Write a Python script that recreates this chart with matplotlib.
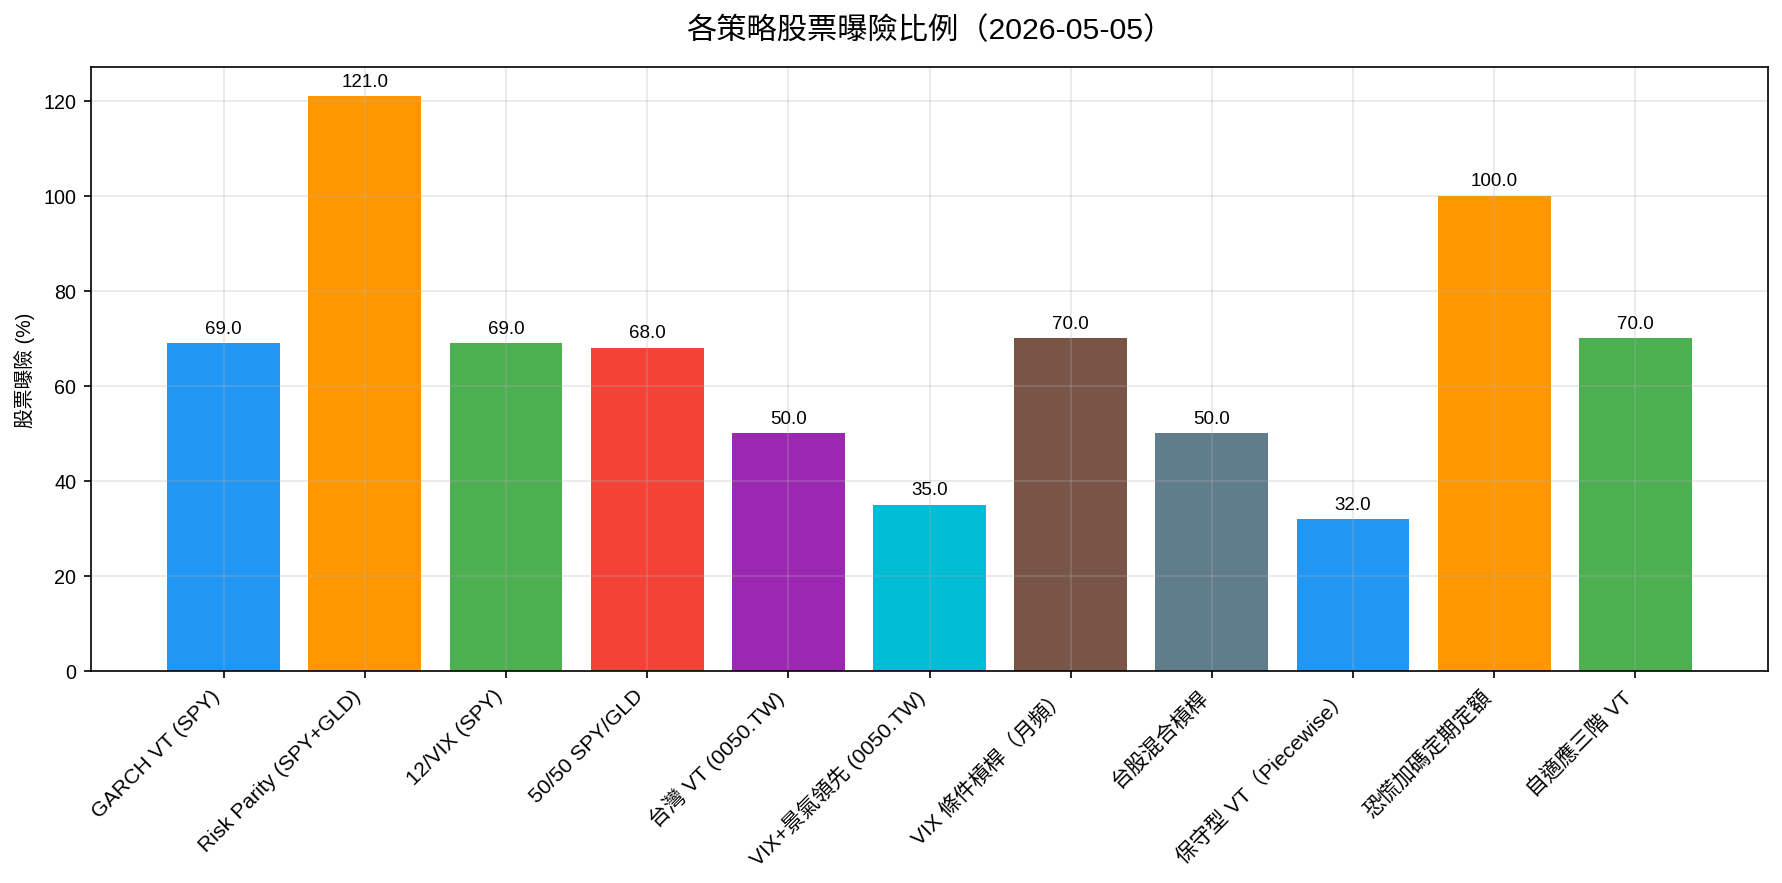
import matplotlib
matplotlib.use("Agg")
import matplotlib.pyplot as plt

plt.rcParams['font.family'] = ['Liberation Sans', 'Noto Sans CJK TC', 'DejaVu Sans']

strategies = ["GARCH VT (SPY)", "Risk Parity (SPY+GLD)", "12/VIX (SPY)", "50/50 SPY/GLD",
              "台灣 VT (0050.TW)", "VIX+景氣領先 (0050.TW)", "VIX 條件槓桿（月頻）", "台股混合槓桿",
              "保守型 VT（Piecewise）", "恐慌加碼定期定額", "自適應三階 VT"]
exposure = [69.0, 121.0, 69.0, 68.0, 50.0, 35.0, 70.0, 50.0, 32.0, 100.0, 70.0]
colors = ["#2196F3", "#FF9800", "#4CAF50", "#F44336", "#9C27B0", "#00BCD4", "#795548",
          "#607D8B", "#2196F3", "#FF9800", "#4CAF50"]

fig, ax = plt.subplots(figsize=(11.88, 5.8933), dpi=150)
x = list(range(len(strategies)))
bars = ax.bar(x, exposure, color=colors, width=0.8)
for b, v in zip(bars, exposure):
    ax.annotate(f"{v:.1f}", (b.get_x() + b.get_width() / 2, b.get_height()),
                xytext=(0, 3), textcoords="offset points", ha="center", va="bottom", fontsize=9)
ax.set_xticks(x)
ax.set_xticklabels(strategies, rotation=45, ha="right", fontsize=10.2)
ax.tick_params(axis='y', labelsize=9.5)
ax.set_ylabel("股票曝險 (%)", fontsize=9.5)
ax.set_title("各策略股票曝險比例（2026-05-05）", fontsize=14.5, pad=14)
ax.grid(True, alpha=0.3)
fig.subplots_adjust(left=91 / 1782, right=1768 / 1782, top=1 - 68 / 884, bottom=1 - 672 / 884)
fig.savefig("out.png", dpi=150)
